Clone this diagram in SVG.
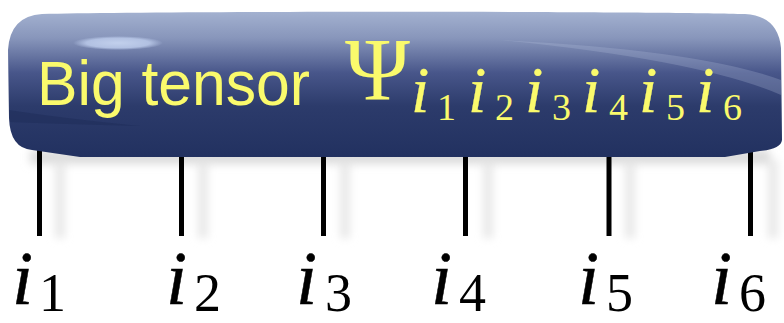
<svg xmlns="http://www.w3.org/2000/svg" width="784" height="323" viewBox="0 0 784 323">
<defs>
<linearGradient id="body" x1="0" y1="0" x2="0" y2="1">
<stop offset="0" stop-color="#a3b1d0"/>
<stop offset="0.18" stop-color="#8896bb"/>
<stop offset="0.42" stop-color="#48568a"/>
<stop offset="0.65" stop-color="#2c3b6b"/>
<stop offset="1" stop-color="#223160"/>
</linearGradient>
<radialGradient id="hl" cx="0.5" cy="0.5" r="0.5">
<stop offset="0" stop-color="#c2d0ec"/>
<stop offset="0.7" stop-color="#b2c1e2"/>
<stop offset="1" stop-color="#b2c1e2" stop-opacity="0"/>
</radialGradient>
<filter id="blur" x="-20%" y="-20%" width="140%" height="140%">
<feGaussianBlur stdDeviation="4"/>
</filter>
<style>
.leg{stroke:#000;stroke-width:5;fill:none}
.sh{stroke:#e6e6e6;stroke-width:9;fill:none}
.ys{font-family:"Liberation Sans",Arial,sans-serif;fill:#fafa6c}
.yi{font-family:"Liberation Serif","Times New Roman",serif;font-style:italic;fill:#fafa6c;stroke:#fafa6c;stroke-width:0.3}
.yd{font-family:"Liberation Serif","Times New Roman",serif;fill:#fafa6c}
.bi{font-family:"Liberation Serif","Times New Roman",serif;font-style:italic;font-size:76px;fill:#000;stroke:#000;stroke-width:0.5}
.bd{font-family:"Liberation Serif","Times New Roman",serif;font-size:54px;fill:#000}
</style>
</defs>
<rect width="784" height="323" fill="#fff"/>
<g id="shadows" filter="url(#blur)">
<rect x="30" y="150" width="740" height="14" fill="#dcdcdc"/>
<line class="sh" x1="60" y1="160" x2="60" y2="238"/>
<line class="sh" x1="203" y1="160" x2="203" y2="238"/>
<line class="sh" x1="345" y1="160" x2="345" y2="238"/>
<line class="sh" x1="488" y1="160" x2="488" y2="238"/>
<line class="sh" x1="630" y1="160" x2="630" y2="238"/>
<line class="sh" x1="773" y1="160" x2="773" y2="238"/>
</g>
<g id="connectors">
<line class="leg" x1="39.5" y1="148" x2="39.5" y2="236"/>
<line class="leg" x1="181.5" y1="150" x2="181.5" y2="236"/>
<line class="leg" x1="323.5" y1="150" x2="323.5" y2="236"/>
<line class="leg" x1="465.5" y1="150" x2="465.5" y2="236"/>
<line class="leg" x1="609" y1="150" x2="609" y2="236"/>
<line class="leg" x1="750.5" y1="148" x2="750.5" y2="236"/>
</g>
<g id="tensor">
<path d="M42,14 C150,11 650,11 745,14 Q778,16 781,48 L782,140 Q781,149 760,151 L725,157 L80,157 L32,150 Q10,148 9,118 L8,50 Q10,16 42,14 Z" fill="url(#body)"/>
<path d="M9,110 Q60,118 140,126 Q60,124 10,122 Z" fill="#1e2c58" opacity="0.5"/>
<path d="M500,40 Q700,50 781,80 L781,95 Q700,60 500,40 Z" fill="#b8c4de" opacity="0.25"/>
<ellipse cx="118" cy="43" rx="45" ry="7" fill="url(#hl)"/>
<text class="ys" x="37" y="105" font-size="63" textLength="273" lengthAdjust="spacingAndGlyphs">Big tensor</text>
<text class="yd" x="345" y="99" font-size="88">Ψ</text>
<text class="yi" x="411" y="112" font-size="66">i</text><text class="yd" x="437" y="120" font-size="38">1</text>
<text class="yi" x="468" y="112" font-size="66">i</text><text class="yd" x="495" y="120" font-size="38">2</text>
<text class="yi" x="525" y="112" font-size="66">i</text><text class="yd" x="552" y="120" font-size="38">3</text>
<text class="yi" x="582" y="112" font-size="66">i</text><text class="yd" x="609" y="120" font-size="38">4</text>
<text class="yi" x="639" y="112" font-size="66">i</text><text class="yd" x="666" y="120" font-size="38">5</text>
<text class="yi" x="696" y="112" font-size="66">i</text><text class="yd" x="723" y="120" font-size="38">6</text>
</g>
<g id="label-i1"><text class="bi" x="12" y="304">i</text><text class="bd" x="39" y="311">1</text></g>
<g id="label-i2"><text class="bi" x="166" y="304">i</text><text class="bd" x="194" y="311">2</text></g>
<g id="label-i3"><text class="bi" x="296" y="304">i</text><text class="bd" x="325" y="311">3</text></g>
<g id="label-i4"><text class="bi" x="431" y="304">i</text><text class="bd" x="459" y="311">4</text></g>
<g id="label-i5"><text class="bi" x="578" y="304">i</text><text class="bd" x="606" y="311">5</text></g>
<g id="label-i6"><text class="bi" x="711" y="304">i</text><text class="bd" x="739" y="311">6</text></g>
</svg>
